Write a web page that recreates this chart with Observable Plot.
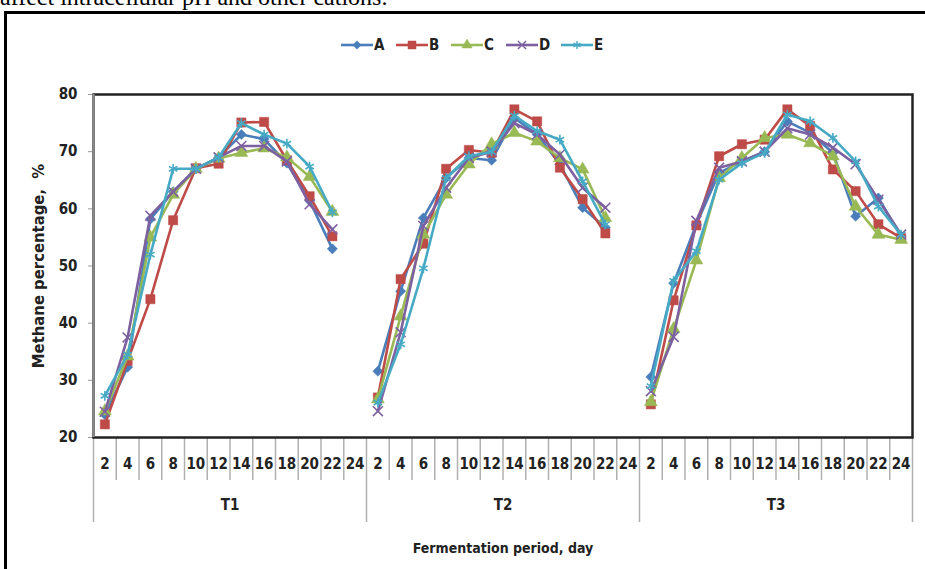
<!DOCTYPE html>
<html>
<head>
<meta charset="utf-8">
<script src="https://cdn.jsdelivr.net/npm/d3@7"></script>
<script src="https://cdn.jsdelivr.net/npm/@observablehq/plot@0.6"></script>
<style>
  html, body { margin: 0; padding: 0; background: #fff; }
  #page { position: relative; width: 925px; height: 569px; overflow: hidden; background: #fff; }
  #toptext { position: absolute; left: 0px; top: -15px; font-family: "Liberation Serif", "Times New Roman", serif; font-size: 24px; line-height: 24px; white-space: nowrap; color: #000; }
  #frameTop { position: absolute; left: 4px; top: 11px; width: 930px; height: 3px; background: #000; }
  #frameLeft { position: absolute; left: 4px; top: 11px; width: 3px; height: 600px; background: #000; }
  #chart { position: absolute; left: 0; top: 0; }
  #legend { position: absolute; left: 340px; top: 36px; display: flex; gap: 0px; font-family: "Liberation Sans Narrow", "DejaVu Sans Condensed", "Liberation Sans", sans-serif; font-weight: bold; font-size: 15px; color: #222; }
  .item { display: flex; align-items: center; width: 55px; }
  .item svg { display: block; }
</style>
</head>
<body>
<div id="page">
  <div id="chart"></div>
  <div id="toptext">affect intracellular pH and other cations.</div>
  <div id="frameTop"></div>
  <div id="frameLeft"></div>
  <div id="legend"></div>
</div>
<script>
// ---- data ----
const days = [2, 4, 6, 8, 10, 12, 14, 16, 18, 20, 22, 24];
const groups = ["T1", "T2", "T3"];
const seriesNames = ["A", "B", "C", "D", "E"];
const seriesColors = ["#4A7EBB", "#BE4B48", "#98B954", "#7D60A0", "#46AAC5"];
const seriesSymbols = ["diamond2", "square", "triangle", "times", "asterisk"];
const yTicks = [20, 30, 40, 50, 60, 70, 80];
const yTitle = "Methane percentage,  %";
const xTitle = "Fermentation period, day";

// values per series: T1 (days 2..24), T2 (days 2..24), T3 (days 2..24); null = no reading
const A = [24, 32.3, 58.2, 63, 67, 69, 73, 72.2, 68, 61.4, 53, null,
           31.6, 45.6, 58.4, 65.4, 68.9, 68.5, 75.9, 73, 67.8, 60.2, 56.7, null,
           30.6, 47, 57.3, 66.3, 68.3, 70, 75.3, 73.3, 69.8, 58.7, 61.9, 55.2];
const B = [22.3, 33.4, 44.2, 58, 67.1, 67.9, 75.1, 75.2, 68.5, 62.2, 55.2, null,
           27, 47.7, 53.9, 67, 70.3, 69.8, 77.4, 75.3, 67.2, 61.7, 55.7, null,
           25.8, 44, 57.1, 69.2, 71.3, 72.1, 77.4, 74.5, 66.9, 63.1, 57.3, 54.9];
const C = [24.6, 34.2, 55, 62.5, 67, 68.8, 69.8, 70.6, 69, 65.6, 59.5, null,
           26.7, 41.2, 55.5, 62.5, 67.8, 71.3, 73.3, 71.8, 68.9, 66.9, 58.4, null,
           26.2, 39, 51, 65.4, 68.9, 72.4, 73, 71.5, 69.2, 60.4, 55.5, 54.6];
const D = [24.5, 37.5, 58.8, 63, 67, 69, 71, 71, 68.3, 60.8, 56.4, null,
           24.6, 38.4, 57, 63.7, 68.9, 70, 75, 73, 69.5, 63.7, 60.2, null,
           28.1, 37.6, 57.9, 67.2, 68.3, 70, 74.1, 73, 70.7, 67.8, 61.6, 55.5];
const E = [27.3, 34.5, 52, 67, 67, 69, 75, 73, 71.4, 67.4, 59.4, null,
           26.1, 36.3, 49.6, 65.4, 69.2, 70, 76.3, 73.6, 72.1, 64.8, 57.3, null,
           29, 47.4, 52.6, 65.1, 68, 69.8, 76.5, 75.3, 72.4, 68.3, 60.4, 55.5];
const seriesValues = [A, B, C, D, E];

// ---- derived tables ----
const nCat = groups.length * days.length;
const catLabels = groups.flatMap(() => days.map(String));
const rows = seriesNames.flatMap((s, k) =>
  seriesValues[k].map((v, i) => ({series: s, pos: i + 0.5, value: v})));
const centers = d3.range(nCat).map(i => i + 0.5);
const groupBounds = d3.range(groups.length + 1).map(g => g * days.length);
const innerBounds = d3.range(1, nCat).filter(b => b % days.length !== 0);
const groupCenters = groups.map((g, j) => j * days.length + days.length / 2);

const fontNarrow = '"Liberation Sans Narrow", "DejaVu Sans Condensed", "Liberation Sans", sans-serif';

const marks = [
  // category separators below the plot area
  Plot.axisX({ticks: innerBounds, tickSize: 43, tickFormat: () => "", label: null, stroke: "#b0b0b0", strokeWidth: 1.5}),
  Plot.axisX({ticks: groupBounds, tickSize: 85, tickFormat: () => "", label: null, stroke: "#b0b0b0", strokeWidth: 1.5}),
  Plot.axisX({ticks: centers, tickSize: 0, tickPadding: 21, label: null, tickFormat: d => catLabels[Math.floor(d)], fontSize: 15}),
  Plot.axisX({ticks: groupCenters, tickSize: 0, tickPadding: 62, label: null, tickFormat: d => groups[Math.floor(d / days.length)], fontSize: 15}),
  Plot.axisY({ticks: yTicks, tickSize: 5, tickPadding: 11, label: null, stroke: "#999", fontSize: 15}),
  Plot.text([yTitle], {text: d => d, frameAnchor: "left", textAnchor: "middle", dx: -55, rotate: -90, fontSize: 16.5, fontWeight: "bold", fontFamily: '"DejaVu Sans Condensed", "Liberation Sans", sans-serif'}),
  Plot.text([xTitle], {text: d => d, frameAnchor: "bottom", textAnchor: "middle", lineAnchor: "middle", dy: 111, fontSize: 14, fontWeight: "bold"}),
];

seriesNames.forEach((s, k) => {
  const data = rows.filter(r => r.series === s);
  const col = seriesColors[k];
  const sym = seriesSymbols[k];
  marks.push(Plot.line(data, {x: "pos", y: "value", stroke: col, strokeWidth: 2.6}));
  const strokeSym = sym === "times" || sym === "asterisk";
  const r = sym === "square" ? 5.2 : sym === "triangle" ? 4.8 : 4.6;
  marks.push(Plot.dot(data, strokeSym
    ? {x: "pos", y: "value", symbol: sym, r, stroke: col, strokeWidth: 1.6, fill: "none"}
    : {x: "pos", y: "value", symbol: sym, r, fill: col, stroke: col, strokeWidth: 0.5}));
});

marks.push(Plot.frame({stroke: "#222", strokeWidth: 2.5}));
marks.push(Plot.ruleX([0], {stroke: "#8a8a8a", strokeWidth: 2.5}));

const chart = Plot.plot({
  width: 925,
  height: 569,
  marginTop: 94,
  marginBottom: 132,
  marginLeft: 93,
  marginRight: 13,
  style: {fontFamily: fontNarrow, fontWeight: "bold", color: "#222", background: "transparent", overflow: "visible"},
  x: {domain: [0, nCat], axis: null},
  y: {domain: [yTicks[0], yTicks[yTicks.length - 1]], axis: null},
  marks
});
document.getElementById("chart").appendChild(chart);

// ---- legend ----
const legend = d3.select("#legend");
seriesNames.forEach((s, k) => {
  const item = legend.append("div").attr("class", "item");
  const svg = item.append("svg").attr("width", 34).attr("height", 16);
  svg.append("line").attr("x1", 1).attr("x2", 33).attr("y1", 8).attr("y2", 8)
    .attr("stroke", seriesColors[k]).attr("stroke-width", 2.6);
  const sym = seriesSymbols[k];
  const typeMap = {diamond2: d3.symbolDiamond2, square: d3.symbolSquare, triangle: d3.symbolTriangle, times: d3.symbolTimes, asterisk: d3.symbolAsterisk};
  const strokeSym = sym === "times" || sym === "asterisk";
  svg.append("path").attr("transform", "translate(17,8)")
    .attr("d", d3.symbol(typeMap[sym], Math.PI * (sym === "square" ? 4.5 : 3.8) ** 2)())
    .attr("fill", strokeSym ? "none" : seriesColors[k])
    .attr("stroke", seriesColors[k]).attr("stroke-width", strokeSym ? 1.4 : 0.5);
  item.append("span").text(s);
});
</script>
</body>
</html>
